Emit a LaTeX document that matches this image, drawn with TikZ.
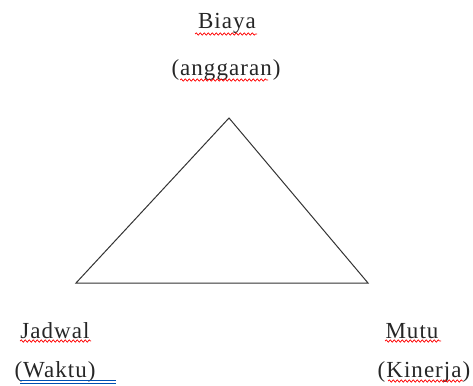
\documentclass[tikz,border=0pt]{standalone}
\usepackage{fontspec}
\setmainfont{Liberation Serif}[LetterSpace=4.5]
\usetikzlibrary{decorations.pathmorphing}
\begin{document}
\begin{tikzpicture}[x=1pt,y=-1pt,
  label/.style={font=\fontsize{23}{26}\selectfont, text=black!85, inner sep=0pt, anchor=base},
  edge/.style={draw=black!80, line width=1pt, line join=miter},
  spell/.style={draw=red, line width=0.7pt, decorate,
    decoration={snake, segment length=4pt, amplitude=1.2pt}},
  grammar/.style={draw=blue!55!cyan!70!black, line width=0.9pt}]
  \useasboundingbox (0,0) rectangle (473,385);

  % triangle corners
  \coordinate (top) at (229,118);
  \coordinate (left) at (76,283);
  \coordinate (right) at (368,283);
  \draw[edge] (top) -- (left) -- (right) -- cycle;

  % labels
  \node[label] (biaya) at (227,29) {Biaya};
  \node[label] (anggaran) at (226,76) {(anggaran)};
  \node[label] (jadwal) at (55,338) {Jadwal};
  \node[label] (waktu) at (55,377) {(Waktu)};
  \node[label] (mutu) at (412,338) {Mutu};
  \node[label] (kinerja) at (424,377) {(Kinerja)};

  % proofing underlines
  \draw[spell] (195,34) -- (257,34);
  \draw[spell] (180,80) -- (268,80);
  \draw[spell] (20,341) -- (91,341);
  \draw[spell] (385,341) -- (441,341);
  \draw[spell] (388,381) -- (463,381);
  \draw[grammar] (20,380) -- (116,380);
  \draw[grammar] (20,383) -- (116,383);
\end{tikzpicture}
\end{document}
